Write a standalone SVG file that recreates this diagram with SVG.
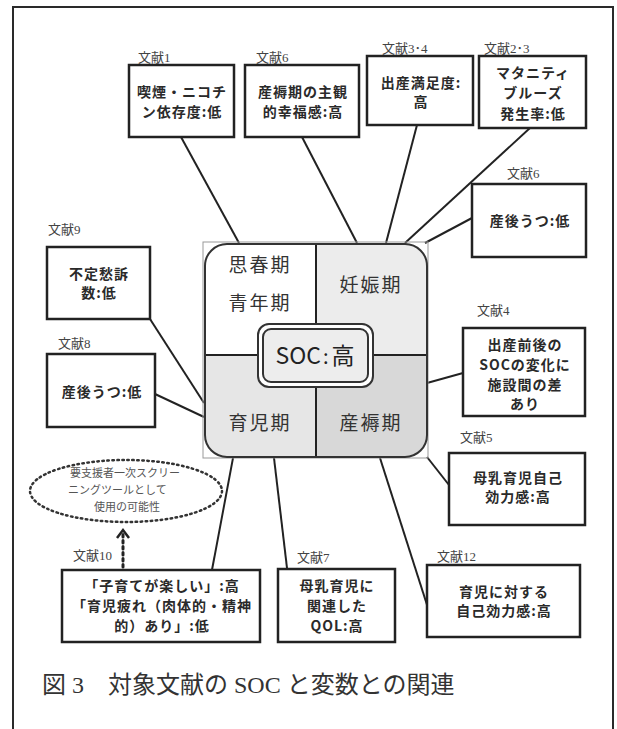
<svg xmlns="http://www.w3.org/2000/svg" width="617" height="729" viewBox="0 0 617 729">
<style>
.frame{fill:none;stroke:#2a2a2a;stroke-width:2}
.box{fill:#fff;stroke:#222;stroke-width:2.5}
.bt{font-family:"Noto Sans CJK JP",sans-serif;font-weight:bold;font-size:14px;letter-spacing:1px;fill:#2a2a2a;text-anchor:middle}
.lb{font-family:"Liberation Serif","Noto Sans CJK JP",serif;font-size:13px;fill:#444}
.ln{stroke:#222;stroke-width:2;fill:none}
.q{font-family:"Noto Sans CJK JP",sans-serif;font-size:19px;letter-spacing:2px;fill:#333;text-anchor:middle}
.et{font-family:"Noto Sans CJK JP",sans-serif;font-size:11px;fill:#555}
</style>
<defs>
<clipPath id="rc"><rect x="205" y="244" width="222" height="213" rx="22"/></clipPath>
</defs>
<rect width="617" height="729" fill="#fff"/>
<path class="frame" d="M13,729 V7 H613 V729"/>

<g id="connectors">
<line class="ln" x1="181" y1="137" x2="239" y2="243"/>
<line class="ln" x1="302" y1="137" x2="357" y2="243"/>
<line class="ln" x1="417" y1="125" x2="386" y2="243"/>
<line class="ln" x1="530" y1="128" x2="405" y2="243"/>
<line class="ln" x1="472" y1="218" x2="425" y2="243"/>
<line class="ln" x1="150" y1="319" x2="204" y2="403"/>
<line class="ln" x1="155" y1="394" x2="204" y2="417"/>
<line class="ln" x1="427" y1="383" x2="463" y2="373"/>
<line class="ln" x1="427" y1="457" x2="449" y2="485"/>
<line class="ln" x1="233" y1="458" x2="212" y2="570"/>
<line class="ln" x1="274" y1="458" x2="287" y2="568"/>
<line class="ln" x1="380" y1="458" x2="428" y2="608"/>
<line x1="123" y1="567" x2="123" y2="534" stroke="#222" stroke-width="3" stroke-dasharray="2.5 3.5" stroke-linecap="round"/>
<path d="M117,538 L123,530 L129,538" fill="none" stroke="#222" stroke-width="2.5"/>
</g>

<g id="center">
<rect x="203" y="242" width="225" height="216" fill="none" stroke="#999" stroke-width="1"/>
<g clip-path="url(#rc)">
<rect x="205" y="244" width="111" height="111" fill="#fff"/>
<rect x="316" y="244" width="111" height="111" fill="#ececec"/>
<rect x="205" y="355" width="111" height="102" fill="#e6e6e6"/>
<rect x="316" y="355" width="111" height="102" fill="#d8d8d8"/>
</g>
<line x1="316" y1="244" x2="316" y2="457" stroke="#222" stroke-width="2"/>
<line x1="205" y1="355" x2="427" y2="355" stroke="#222" stroke-width="2"/>
<rect x="205" y="244" width="222" height="213" rx="22" fill="none" stroke="#333" stroke-width="2"/>
<text class="q" x="260" y="272">思春期</text>
<text class="q" x="260" y="310">青年期</text>
<text class="q" x="371" y="292">妊娠期</text>
<text class="q" x="260" y="430">育児期</text>
<text class="q" x="371" y="430">産褥期</text>
<rect x="258" y="324" width="115" height="63" rx="11" fill="#fff" stroke="#333" stroke-width="2"/>
<rect x="263" y="329" width="105" height="53" rx="8" fill="#ededed" stroke="#333" stroke-width="2"/>
<text x="315" y="364" font-family="Noto Sans CJK JP,sans-serif" font-size="23px" fill="#222" text-anchor="middle">SOC<tspan dx="2" font-size="20px">:</tspan><tspan dx="3">高</tspan></text>
</g>

<g id="n1">
<text class="lb" x="138" y="62">文献1</text>
<rect class="box" x="129" y="65" width="105" height="72"/>
<text class="bt" x="182" y="97">喫煙・ニコチ</text>
<text class="bt" x="182" y="117">ン依存度:低</text>
</g>
<g id="n6a">
<text class="lb" x="256" y="62">文献6</text>
<rect class="box" x="245" y="65" width="114" height="72"/>
<text class="bt" x="303" y="97">産褥期の主観</text>
<text class="bt" x="303" y="117">的幸福感:高</text>
</g>
<g id="n34">
<text class="lb" x="382" y="53">文献3･4</text>
<rect class="box" x="367" y="56" width="106" height="69"/>
<text class="bt" x="421" y="88">出産満足度:</text>
<text class="bt" x="421" y="107">高</text>
</g>
<g id="n23">
<text class="lb" x="484" y="53">文献2･3</text>
<rect class="box" x="479" y="56" width="107" height="72"/>
<text class="bt" x="533" y="78">マタニティ</text>
<text class="bt" x="533" y="98">ブルーズ</text>
<text class="bt" x="533" y="119">発生率:低</text>
</g>
<g id="n6b">
<text class="lb" x="507" y="178">文献6</text>
<rect class="box" x="472" y="184" width="114" height="73"/>
<text class="bt" x="530" y="226">産後うつ:低</text>
</g>
<g id="n9">
<text class="lb" x="48" y="234">文献9</text>
<rect class="box" x="47" y="247" width="103" height="72"/>
<text class="bt" x="99" y="279">不定愁訴</text>
<text class="bt" x="99" y="298">数:低</text>
</g>
<g id="n8">
<text class="lb" x="58" y="348">文献8</text>
<rect class="box" x="47" y="354" width="108" height="73"/>
<text class="bt" x="102" y="397">産後うつ:低</text>
</g>
<g id="n4">
<text class="lb" x="477" y="315">文献4</text>
<rect class="box" x="463" y="328" width="122" height="88"/>
<text class="bt" x="525" y="350">出産前後の</text>
<text class="bt" x="525" y="370">SOCの変化に</text>
<text class="bt" x="525" y="390">施設間の差</text>
<text class="bt" x="525" y="409">あり</text>
</g>
<g id="n5">
<text class="lb" x="460" y="442">文献5</text>
<rect class="box" x="449" y="453" width="136" height="72"/>
<text class="bt" x="518" y="483">母乳育児自己</text>
<text class="bt" x="518" y="502">効力感:高</text>
</g>
<g id="ellipse">
<ellipse cx="126" cy="491" rx="96" ry="31" fill="none" stroke="#333" stroke-width="2.5" stroke-dasharray="1.5 3.5" stroke-linecap="round"/>
<text class="et" x="70" y="477">要支援者一次スクリー</text>
<text class="et" x="68" y="494">ニングツールとして</text>
<text class="et" x="127" y="511" text-anchor="middle">使用の可能性</text>
</g>
<g id="n10">
<text class="lb" x="73" y="560">文献10</text>
<rect class="box" x="62" y="570" width="198" height="72"/>
<text class="bt" x="162" y="591">「子育てが楽しい」:高</text>
<text class="bt" x="162" y="611">「育児疲れ（肉体的・精神</text>
<text class="bt" x="162" y="631">的）あり」:低</text>
</g>
<g id="n7">
<text class="lb" x="297" y="562">文献7</text>
<rect class="box" x="278" y="569" width="117" height="73"/>
<text class="bt" x="337" y="591">母乳育児に</text>
<text class="bt" x="337" y="611">関連した</text>
<text class="bt" x="337" y="631">QOL:高</text>
</g>
<g id="n12">
<text class="lb" x="437" y="561">文献12</text>
<rect class="box" x="427" y="565" width="153" height="72"/>
<text class="bt" x="504" y="597">育児に対する</text>
<text class="bt" x="504" y="616">自己効力感:高</text>
</g>
<text x="42" y="693" font-family="Liberation Serif,Noto Sans CJK JP,serif" font-size="24px" fill="#333">図 3　対象文献の SOC と変数との関連</text>
</svg>
